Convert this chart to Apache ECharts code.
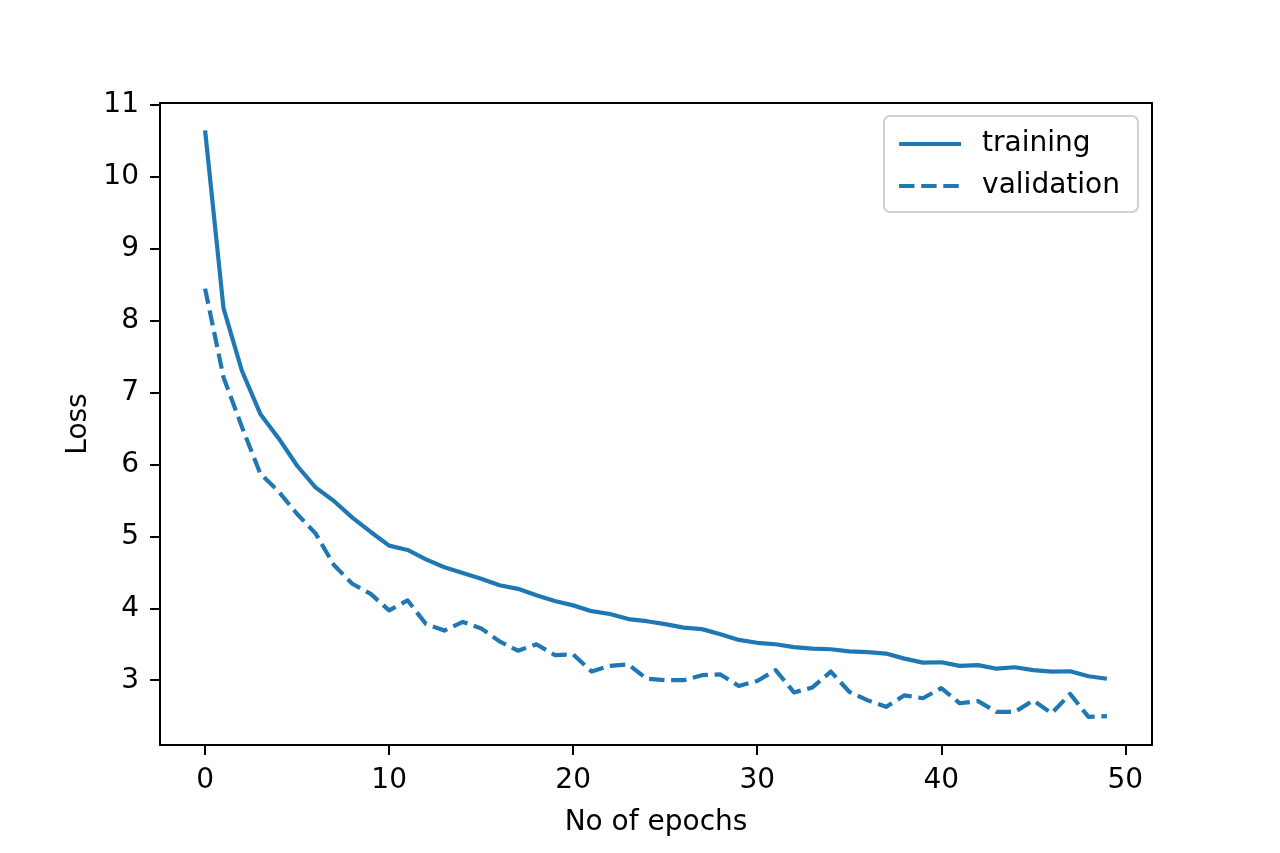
<!DOCTYPE html>
<html>
<head>
<meta charset="utf-8">
<script src="https://cdn.jsdelivr.net/npm/echarts@6/dist/echarts.min.js"></script>
<style>
html,body{margin:0;padding:0;background:#fff;}
#chart{width:1280px;height:853px;}
</style>
</head>
<body>
<div id="chart"></div>
<script>
const epochs = Array.from({length: 50}, (_, i) => i);
const trainingLoss = [
  10.64, 8.17, 7.30, 6.70, 6.36, 5.98, 5.68, 5.49, 5.26, 5.06,
  4.87, 4.81, 4.68, 4.57, 4.49, 4.41, 4.32, 4.27, 4.18, 4.10,
  4.04, 3.96, 3.92, 3.85, 3.82, 3.78, 3.73, 3.71, 3.64, 3.56,
  3.52, 3.50, 3.46, 3.44, 3.43, 3.40, 3.39, 3.37, 3.30, 3.245,
  3.25, 3.20, 3.21, 3.16, 3.18, 3.14, 3.12, 3.125, 3.055, 3.02
];
const validationLoss = [
  8.44, 7.21, 6.52, 5.87, 5.62, 5.31, 5.04, 4.60, 4.34, 4.20,
  3.97, 4.11, 3.78, 3.69, 3.81, 3.72, 3.54, 3.41, 3.50, 3.35,
  3.36, 3.12, 3.20, 3.22, 3.02, 3.00, 3.00, 3.07, 3.08, 2.92,
  2.99, 3.14, 2.83, 2.90, 3.12, 2.84, 2.72, 2.63, 2.79, 2.75,
  2.89, 2.68, 2.71, 2.56, 2.56, 2.72, 2.54, 2.81, 2.49, 2.50
];
const xTicks = [0, 10, 20, 30, 40, 50];
const yTicks = [3, 4, 5, 6, 7, 8, 9, 10, 11];
const seriesNames = ['training', 'validation'];
const xLabel = 'No of epochs';
const yLabel = 'Loss';

const color = '#1f77b4';
const font = 'DejaVu Sans';
const chart = echarts.init(document.getElementById('chart'));
chart.setOption({
  backgroundColor: '#ffffff',
  animation: false,
  grid: {left: 160, right: 128, top: 103, bottom: 108, show: true, borderColor: '#000', borderWidth: 2, backgroundColor: 'transparent'},
  legend: {
    orient: 'vertical', left: 884, top: 116,
    padding: [14, 18, 12, 13],
    itemWidth: 62, itemHeight: 16, itemGap: 14,
    backgroundColor: '#fff',
    borderColor: '#d0d0d0', borderWidth: 2, borderRadius: 6,
    textStyle: {fontFamily: font, fontSize: 28, color: '#000', padding: [0, 0, 0, 16]},
    itemStyle: {opacity: 0},
    lineStyle: {width: 4.2},
    data: seriesNames
  },
  xAxis: {
    type: 'value', min: -2.45, max: 51.45,
    name: xLabel, nameLocation: 'middle', nameGap: 64,
    nameTextStyle: {fontFamily: font, fontSize: 28, color: '#000'},
    axisLine: {show: true, onZero: false, lineStyle: {color: '#000', width: 2}},
    axisTick: {show: true, length: 10, customValues: xTicks, lineStyle: {color: '#000', width: 2}},
    axisLabel: {fontFamily: font, fontSize: 28, color: '#000', margin: 22, customValues: xTicks},
    splitLine: {show: false}
  },
  yAxis: {
    type: 'value', min: 2.1, max: 11.02,
    name: yLabel, nameLocation: 'middle', nameGap: 67, nameRotate: 90,
    nameTextStyle: {fontFamily: font, fontSize: 28, color: '#000'},
    axisLine: {show: true, onZero: false, lineStyle: {color: '#000', width: 2}},
    axisTick: {show: true, length: 10, customValues: yTicks, lineStyle: {color: '#000', width: 2}},
    axisLabel: {fontFamily: font, fontSize: 28, color: '#000', margin: 21, customValues: yTicks},
    splitLine: {show: false}
  },
  series: [
    {
      name: seriesNames[0], type: 'line', symbol: 'none',
      data: epochs.map((e, i) => [e, trainingLoss[i]]),
      lineStyle: {color: color, width: 4.2, cap: 'butt', join: 'round'},
      itemStyle: {color: color}
    },
    {
      name: seriesNames[1], type: 'line', symbol: 'none',
      data: epochs.map((e, i) => [e, validationLoss[i]]),
      lineStyle: {color: color, width: 4.2, type: [15.4, 6.7], cap: 'butt', join: 'round'},
      itemStyle: {color: color}
    }
  ]
});
</script>
</body>
</html>
